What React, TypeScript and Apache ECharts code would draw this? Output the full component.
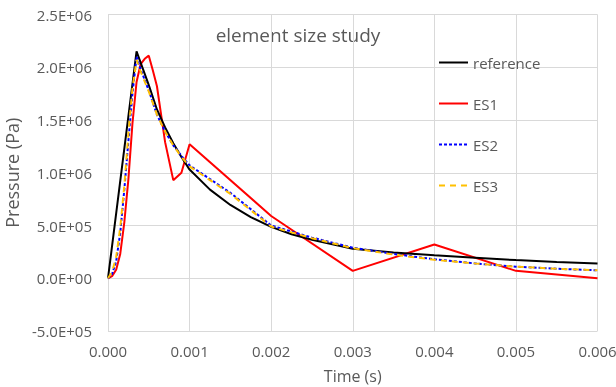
import React, { useEffect, useRef } from "react";
import * as echarts from "echarts";

const refTime = [0, 0.00035, 0.0005, 0.0006, 0.0007, 0.0008, 0.0009, 0.001, 0.00125, 0.0015, 0.00175, 0.002, 0.00225, 0.0025, 0.003, 0.0035, 0.004, 0.0045, 0.005, 0.0055, 0.006];
const refValues = [0, 2.15e6, 1.83e6, 1.6e6, 1.43e6, 1.28e6, 1.15e6, 1.03e6, 8.4e5, 6.95e5, 5.8e5, 4.87e5, 4.17e5, 3.65e5, 2.8e5, 2.45e5, 2.17e5, 1.95e5, 1.72e5, 1.55e5, 1.4e5];

const es1Time = [0, 0.00005, 0.0001, 0.00015, 0.0002, 0.00025, 0.0003, 0.00035, 0.0004, 0.00045, 0.0005, 0.00055, 0.0006, 0.0007, 0.0008, 0.0009, 0.001, 0.002, 0.003, 0.004, 0.005, 0.006];
const es1Values = [0, 2e4, 8e4, 2.3e5, 5.3e5, 9.4e5, 1.47e6, 1.86e6, 2.03e6, 2.08e6, 2.11e6, 1.97e6, 1.82e6, 1.29e6, 9.3e5, 1.0e6, 1.27e6, 5.9e5, 7e4, 3.2e5, 7e4, 0];

const es2Time = [0, 0.00005, 0.0001, 0.00015, 0.0002, 0.00025, 0.0003, 0.00035, 0.0004, 0.0005, 0.0006, 0.0007, 0.0008, 0.0009, 0.001, 0.0015, 0.002, 0.0025, 0.003, 0.0035, 0.004, 0.0045, 0.005, 0.0055, 0.006];
const es2Values = [0, 4e4, 1.6e5, 4.3e5, 8.4e5, 1.3e6, 1.75e6, 2.1e6, 1.98e6, 1.78e6, 1.55e6, 1.39e6, 1.26e6, 1.16e6, 1.07e6, 8.1e5, 5.0e5, 3.85e5, 2.9e5, 2.3e5, 1.8e5, 1.4e5, 1.1e5, 9e4, 7.5e4];

const es3Time = [0, 0.00005, 0.0001, 0.00015, 0.0002, 0.00025, 0.0003, 0.00035, 0.0004, 0.0005, 0.0006, 0.0007, 0.0008, 0.0009, 0.001, 0.0015, 0.002, 0.0025, 0.003, 0.0035, 0.004, 0.0045, 0.005, 0.0055, 0.006];
const es3Values = [0, 6e4, 2e5, 4.8e5, 8.8e5, 1.37e6, 1.8e6, 2.07e6, 1.96e6, 1.77e6, 1.55e6, 1.39e6, 1.26e6, 1.15e6, 1.06e6, 8.0e5, 4.9e5, 3.8e5, 2.85e5, 2.25e5, 1.75e5, 1.4e5, 1.1e5, 9e4, 7.5e4];

const seriesNames = ["reference", "ES1", "ES2", "ES3"];
const titleText = "element size study";

const zip = (t: number[], v: number[]) => t.map((x, i) => [x, v[i]]);

const fmtExp = (v: number) => {
  const s = v.toExponential(1);
  const m = s.match(/^(-?[\d.]+)e([+-])(\d+)$/);
  if (!m) return s;
  return `${m[1]}E${m[2]}${m[3].padStart(2, "0")}`;
};

export default function App() {
  const ref = useRef<HTMLDivElement>(null);
  useEffect(() => {
    if (!ref.current) return;
    const chart = echarts.init(ref.current, undefined, { renderer: "svg" });
    const font = "'Open Sans', sans-serif";
    const grey = "#595959";
    const gridColor = "#d9d9d9";
    chart.setOption({
      animation: false,
      textStyle: { fontFamily: font },
      grid: {
        left: 108,
        right: 18.5,
        top: 14.5,
        bottom: 56,
        containLabel: false,
        outerBoundsMode: "none",
      },
      graphic: [
        {
          type: "text",
          x: 298,
          y: 35,
          style: {
            text: titleText,
            fill: grey,
            font: `19px ${font}`,
            textAlign: "center",
            textVerticalAlign: "middle",
          },
        },
      ],
      legend: {
        orient: "vertical",
        left: 438,
        top: 55,
        itemGap: 26,
        itemWidth: 29,
        itemHeight: 14,
        padding: 0,
        itemStyle: { opacity: 0 },
        textStyle: { fontSize: 15, color: grey, fontFamily: font },
        data: seriesNames,
      },
      xAxis: {
        type: "value",
        min: 0,
        max: 0.006,
        interval: 0.001,
        name: "Time (s)",
        nameLocation: "middle",
        nameGap: 37,
        nameTextStyle: { fontSize: 16, color: grey, fontFamily: font },
        axisLine: { show: false },
        axisTick: { show: false },
        axisLabel: {
          fontSize: 15,
          color: grey,
          margin: 12,
          formatter: (v: number) => v.toFixed(3),
        },
        splitLine: { show: true, lineStyle: { color: gridColor, width: 1 } },
      },
      yAxis: {
        type: "value",
        min: -5e5,
        max: 2.5e6,
        interval: 5e5,
        name: "Pressure (Pa)",
        nameLocation: "middle",
        nameGap: 84,
        nameTextStyle: { fontSize: 18, color: grey, fontFamily: font },
        axisLine: { show: false },
        axisTick: { show: false },
        axisLabel: {
          fontSize: 15,
          color: grey,
          margin: 16,
          formatter: (v: number) => fmtExp(v),
        },
        splitLine: { show: true, lineStyle: { color: gridColor, width: 1 } },
      },
      series: [
        {
          name: seriesNames[0],
          type: "line",
          data: zip(refTime, refValues),
          showSymbol: false,
          symbol: "none",
          lineStyle: { color: "#000000", width: 2 },
          itemStyle: { color: "#000000" },
          z: 3,
        },
        {
          name: seriesNames[1],
          type: "line",
          data: zip(es1Time, es1Values),
          showSymbol: false,
          symbol: "none",
          lineStyle: { color: "#ff0000", width: 2 },
          itemStyle: { color: "#ff0000" },
          z: 2,
        },
        {
          name: seriesNames[2],
          type: "line",
          data: zip(es2Time, es2Values),
          showSymbol: false,
          symbol: "none",
          lineStyle: { color: "#0000ff", width: 2, type: [3, 2] },
          itemStyle: { color: "#0000ff" },
          z: 4,
        },
        {
          name: seriesNames[3],
          type: "line",
          data: zip(es3Time, es3Values),
          showSymbol: false,
          symbol: "none",
          lineStyle: { color: "#ffc000", width: 2, type: [6, 5] },
          itemStyle: { color: "#ffc000" },
          z: 5,
        },
      ],
    });
    return () => chart.dispose();
  }, []);
  return (
    <div
      ref={ref}
      style={{ position: "fixed", left: 0, top: 0, width: 616, height: 387 }}
    />
  );
}
